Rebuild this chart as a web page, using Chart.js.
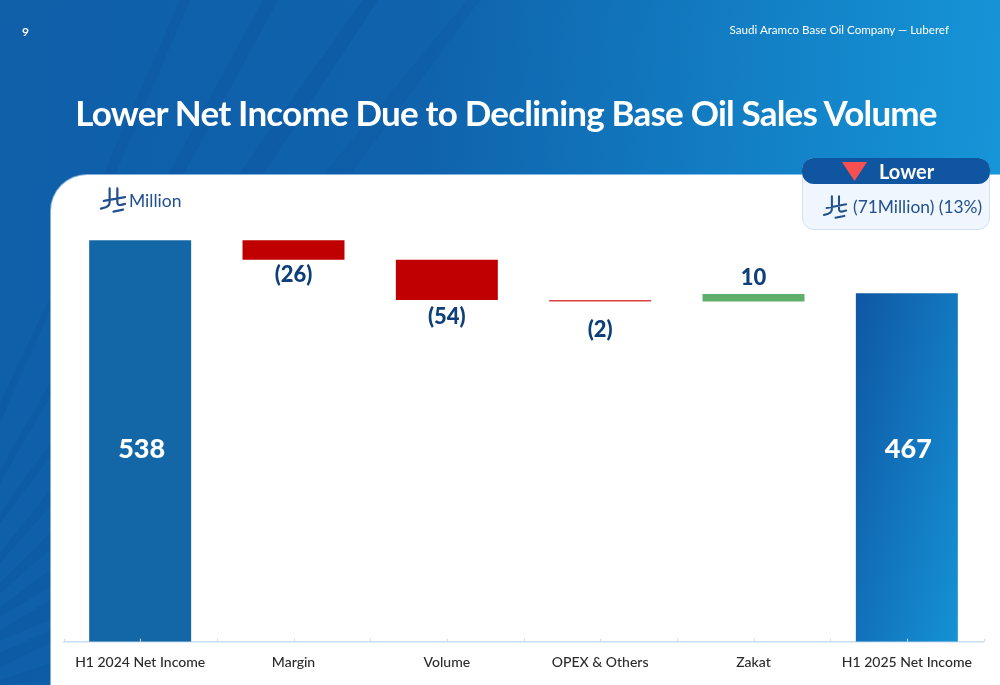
<!DOCTYPE html>
<html>
<head>
<meta charset="utf-8">
<script src="https://cdn.jsdelivr.net/npm/chart.js@4"></script>
<style>
html,body{margin:0;padding:0;width:1000px;height:685px;overflow:hidden;font-family:Lato,sans-serif}
#bg{position:absolute;left:0;top:0;width:1000px;height:685px;background:linear-gradient(95deg,#0f5fa9 0%,#0f62ab 40%,#1699db 100%)}
#panel{position:absolute;left:51px;top:175px;width:949px;height:510px;background:#fff;border-top-left-radius:36px;box-shadow:0 0 0 1px rgba(205,228,250,.6)}
canvas{position:absolute;left:0;top:0}
.t{position:absolute;white-space:nowrap}
#pg{left:22px;top:24px;font-size:12px;font-weight:700;color:#fff}
#co{right:51px;top:23px;font-size:11.6px;color:#fff}
#title{left:6px;width:1000px;text-align:center;top:90px;font-size:35px;letter-spacing:-.8px;font-weight:700;color:#fff;line-height:44px}
#unit{left:129px;top:190px;font-size:17.5px;color:#22508f}
#box{position:absolute;left:802px;top:158px;width:188px;height:72px;background:#eff6fd;border:1px solid #cfe2f7;border-radius:12px;box-sizing:border-box}
#head{position:absolute;left:802px;top:158px;width:188px;height:26px;background:#0f559f;border-radius:12px}
#low{left:879px;top:159px;font-size:20px;font-weight:700;color:#fff}
#sub{left:853px;top:196px;font-size:17.4px;color:#22508f}
svg{position:absolute;overflow:visible}
</style>
</head>
<body>
<div id="bg"></div>
<svg style="left:0;top:0" width="1000" height="685" fill="#0d55a1" fill-opacity=".4">
<path d="M180 0H190L115 175L50 310L0 423V403L50 297L103 175Z"/>
<path d="M263 0H278L183 175L50 397L0 483V470L50 383L168 175Z"/>
<path d="M363 0H378L263 175L50 457L0 523V513L50 443L238 175Z"/>
<path d="M467 0H480L350 175L323 175Z" fill-opacity=".25"/>
<path d="M0 553L50 490V507L0 563Z"/>
<path d="M0 583L50 533V550L0 593Z"/>
<path d="M0 607L50 570V587L0 617Z"/>
<path d="M0 630L50 600V620L0 640Z"/>
<path d="M0 653L50 630V643L0 667Z"/>
<path d="M0 680L50 663V680L0 685Z"/>
</svg>
<div id="panel"></div>
<canvas id="c" width="1000" height="685"></canvas>
<div class="t" id="pg">9</div>
<div class="t" id="co">Saudi Aramco Base Oil Company — Luberef</div>
<div class="t" id="title">Lower Net Income Due to Declining Base Oil Sales Volume</div>
<svg style="left:100px;top:187px" width="26" height="26" viewBox="0 0 27 26" fill="none" stroke="#22508f" stroke-width="2.3" stroke-linecap="round"><path d="M10 1V15Q10 19 6 20.5L1 22M18 1V15Q18 19 22 18L26 17M4 14L26 10M14 25L24 23"/></svg>
<div class="t" id="unit">Million</div>
<div id="box"></div>
<div id="head"></div>
<svg style="left:842px;top:162px" width="26" height="20"><path d="M0 0H25L12.5 19Z" fill="#f85050"/></svg>
<div class="t" id="low">Lower</div>
<svg style="left:823px;top:195px" width="24" height="24" viewBox="0 0 27 26" fill="none" stroke="#22508f" stroke-width="2.3" stroke-linecap="round"><path d="M10 1V15Q10 19 6 20.5L1 22M18 1V15Q18 19 22 18L26 17M4 14L26 10M14 25L24 23"/></svg>
<div class="t" id="sub">(71Million) (13%)</div>
<script>
const categories = ["H1 2024 Net Income","Margin","Volume","OPEX & Others","Zakat","H1 2025 Net Income"];
const lows  = [0,512,458,456,456,0];
const highs = [538,538,512,458,466,467];
const valueLabels = ["538","(26)","(54)","(2)","10","467"];
const labelAnchors = [258,491,435,418,488,258];
const labelSizes = [27,22,22,22,22,27];
const labelColors = ["#fff","#0f3f78","#0f3f78","#0f3f78","#0f3f78","#fff"];
const barColors = ["#1467a6","#c00000","#c00000","#d9403f","#5fae6a","#1599dc"];

const ctx = document.getElementById('c').getContext('2d');
const g = ctx.createLinearGradient(856,293,1050,338);
g.addColorStop(0,'#0f57a4'); g.addColorStop(1,'#1699db');
const colors = barColors.slice(); colors[5]=g;

const labelsPlugin = {
  id:'labels',
  afterDatasetsDraw(chart){
    const {ctx,scales:{x,y}} = chart;
    ctx.save();
    ctx.textAlign='center'; ctx.textBaseline='middle';
    valueLabels.forEach((t,i)=>{
      ctx.font='900 '+labelSizes[i]+'px Lato';
      ctx.fillStyle=labelColors[i];
      ctx.fillText(t,x.getPixelForValue(i)+(labelSizes[i]>25?1.5:0),y.getPixelForValue(labelAnchors[i]));
    });
    ctx.restore();
  }
};
const ticksPlugin = {
  id:'smallTicks',
  afterDraw(chart){
    const {ctx,scales:{x,y}} = chart;
    const b=y.getPixelForValue(0), step=(x.getPixelForValue(1)-x.getPixelForValue(0))/2;
    ctx.save(); ctx.strokeStyle='#c9def3'; ctx.lineWidth=1;
    for(let i=0;i<=12;i++){
      const px=Math.round(x.left+i*step)+0.5;
      ctx.beginPath(); ctx.moveTo(px,b); ctx.lineTo(px,b-3); ctx.stroke();
    }
    ctx.restore();
  }
};
new Chart(ctx,{
  type:'bar',
  data:{labels:categories,datasets:[{data:lows.map((l,i)=>[l,highs[i]]),backgroundColor:colors,categoryPercentage:0.665,barPercentage:1,borderSkipped:false}]},
  options:{
    responsive:false,animation:false,
    layout:{padding:{left:63.5,right:16.5,top:194,bottom:2.5}},
    plugins:{legend:{display:false},tooltip:{enabled:false},title:{display:false}},
    scales:{
      x:{offset:true,grid:{display:false,drawTicks:false},border:{color:'#c9def3',width:1.5},
         ticks:{color:'#2b2b2b',font:{family:'Lato',size:14,weight:'500'},padding:12,maxRotation:0,autoSkip:false}},
      y:{display:false,min:0,max:600}
    }
  },
  plugins:[labelsPlugin,ticksPlugin]
});
</script>
</body>
</html>
